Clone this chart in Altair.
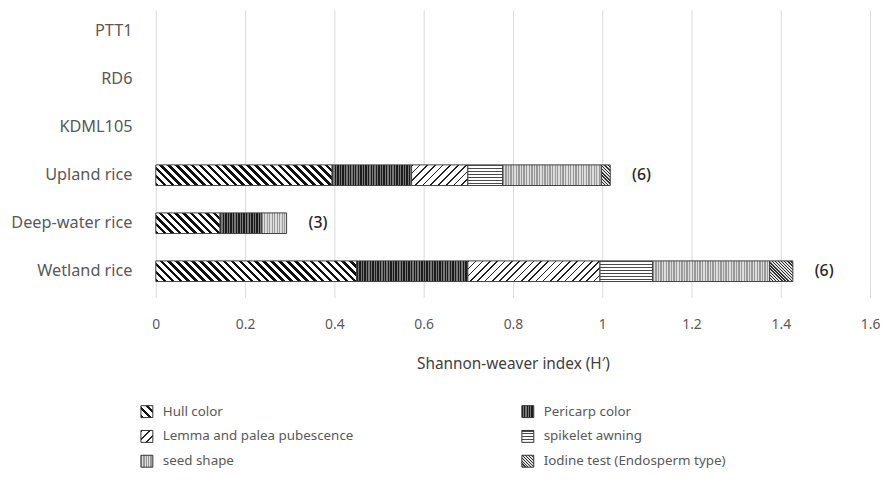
import altair as alt
import pandas as pd

# ---------------- data ----------------
cultivars = ["PTT1", "RD6", "KDML105", "Upland rice", "Deep-water rice", "Wetland rice"]
traits = ["Hull color", "Pericarp color", "Lemma and palea pubescence",
          "spikelet awning", "seed shape", "Iodine test (Endosperm type)"]

upland = [0.395, 0.178, 0.126, 0.078, 0.221, 0.020]
deepwater = [0.144, 0.093, 0.0, 0.0, 0.056, 0.0]
wetland = [0.450, 0.249, 0.296, 0.118, 0.262, 0.052]

series = {"Upland rice": upland, "Deep-water rice": deepwater, "Wetland rice": wetland}
count_labels = {"Upland rice": "(6)", "Deep-water rice": "(3)", "Wetland rice": "(6)"}

x_ticks = [0, 0.2, 0.4, 0.6, 0.8, 1.0, 1.2, 1.4, 1.6]

# ---------------- layout / style ----------------
FONT = "Noto Sans"
PLOT_W = 720
PLOT_H = 285
X_MAX = 1.6
P_IN, P_OUT = 0.57, 0.23
STEP = PLOT_H / (len(cultivars) - P_IN + 2 * P_OUT)
BAR_H = STEP * (1 - P_IN)

# pattern style for each trait: (kind, period px, duty, colour A, colour B)
patterns = {
    "Hull color": ("back", 8.0, 0.45, "#111111", "#ffffff"),
    "Pericarp color": ("v", 2.6, 0.5, "#1c1c1c", "#777777"),
    "Lemma and palea pubescence": ("fwd", 7.5, 0.22, "#222222", "#ffffff"),
    "spikelet awning": ("h", 3.0, 0.35, "#4a4a4a", "#ffffff"),
    "seed shape": ("v", 2.6, 0.5, "#999999", "#dcdcdc"),
    "Iodine test (Endosperm type)": ("back", 3.2, 0.45, "#333333", "#e0e0e0"),
}


def stripes(w, h, trait):
    kind, period, duty, ca, cb = patterns[trait]
    r = h / w
    s = (1 + r) / (1 + r * r)
    if kind == "v":
        length = w
        g = dict(x1=0, y1=0, x2=1, y2=0)
    elif kind == "h":
        length = h
        g = dict(x1=0, y1=0, x2=0, y2=1)
    elif kind == "back":
        length = w + h
        g = dict(x1=0, y1=1, x2=round(s, 5), y2=round(1 - r * s, 5))
    else:
        length = w + h
        g = dict(x1=0, y1=0, x2=round(s, 5), y2=round(r * s, 5))
    n = max(1, round(length / period))
    stops = []
    for k in range(n):
        a = round(k / n, 5)
        b = round((k + duty) / n, 5)
        c = round((k + 1) / n, 5)
        stops += [{"offset": a, "color": ca}, {"offset": b, "color": ca},
                  {"offset": b, "color": cb}, {"offset": c, "color": cb}]
    g["gradient"] = "linear"
    g["stops"] = stops
    return g


xscale = alt.Scale(domain=[0, X_MAX], nice=False, zero=True)
yscale = alt.Scale(domain=cultivars, paddingInner=P_IN, paddingOuter=P_OUT)

x_enc = alt.X("start:Q", scale=xscale, title="Shannon-weaver index (H′)",
              axis=alt.Axis(values=x_ticks, format="~g", grid=True, gridColor="#d9d9d9",
                            domain=False, ticks=True, tickColor="#d9d9d9", tickSize=5,
                            labelFlush=False, labelOverlap=False,
                            labelFont=FONT, labelFontSize=14, labelColor="#595959",
                            labelPadding=20, titleFont=FONT, titleFontSize=15.5,
                            titleFontWeight="normal", titleColor="#404040", titlePadding=26))
y_enc = alt.Y("cultivar:N", scale=yscale, sort=cultivars, title=None,
              axis=alt.Axis(grid=False, domain=False, ticks=False, labelFont=FONT,
                            labelFontSize=16.4, labelColor="#595959", labelPadding=24))

layers = []
for cv in cultivars:
    if cv not in series:
        continue
    vals = series[cv]
    cum = 0.0
    for t, v in zip(traits, vals):
        if v <= 0:
            continue
        df = pd.DataFrame({"cultivar": [cv], "start": [cum], "end": [cum + v], "trait": [t]})
        w = v / X_MAX * PLOT_W
        layers.append(
            alt.Chart(df).mark_bar(fill=stripes(w, BAR_H, t), stroke="#404040",
                                   strokeWidth=1, opacity=1)
            .encode(x=x_enc, x2="end:Q", y=y_enc)
        )
        cum += v

totals = pd.DataFrame({
    "cultivar": list(series.keys()),
    "start": [sum(series[c]) for c in series],
    "label": [count_labels[c] for c in series],
})
layers.append(
    alt.Chart(totals).mark_text(align="left", baseline="middle", dx=22, font=FONT,
                                fontSize=16, fontWeight=500, color="#262626")
    .encode(x=x_enc, y=y_enc, text="label:N")
)

main = alt.layer(*layers).properties(width=PLOT_W, height=PLOT_H)

# ---------------- legend ----------------
leg_df = pd.DataFrame({
    "trait": traits,
    "col": [i % 2 for i in range(len(traits))],
    "row": [i // 2 for i in range(len(traits))],
})
lx = alt.X("col:Q", scale=alt.Scale(domain=[0, 1], range=[-9, 375]), axis=None)
ly = alt.Y("row:Q", scale=alt.Scale(domain=[0, 2], range=[0, 50]), axis=None)

leg_layers = []
for t in traits:
    sub = leg_df[leg_df["trait"] == t]
    leg_layers.append(
        alt.Chart(sub).mark_point(shape="square", size=144, filled=True,
                                  fill=stripes(12, 12, t), stroke="#333333",
                                  strokeWidth=1, opacity=1)
        .encode(x=lx, y=ly)
    )
leg_layers.append(
    alt.Chart(leg_df).mark_text(align="left", baseline="middle", dx=16, font=FONT,
                                fontSize=13.5, color="#595959")
    .encode(x=lx, y=ly, text="trait:N")
)
legend = alt.layer(*leg_layers).properties(width=PLOT_W, height=50)

chart = (
    alt.vconcat(main, legend, spacing=31)
    .properties(padding={"left": 2, "top": 0, "right": 0, "bottom": 0}, background="white")
    .configure_view(strokeWidth=0)
)

chart.save("out.html", embed_options={"renderer": "svg", "actions": False})
